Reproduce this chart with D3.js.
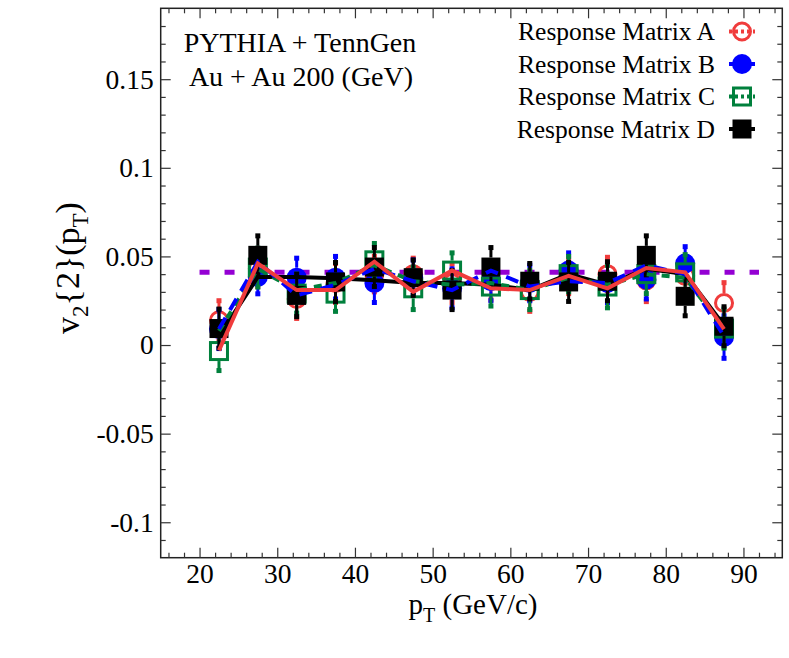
<!DOCTYPE html>
<html>
<head>
<meta charset="utf-8">
<script src="https://cdn.jsdelivr.net/npm/d3@7"></script>
<style>
  body { margin: 0; background: #fff; }
  svg { display: block; }
  text { font-family: "Liberation Serif", "Times New Roman", serif; fill: #000; }
</style>
</head>
<body>
<svg id="chart" width="789" height="658"></svg>
<script>
// pT bin centres
var ptBins = [22.5, 27.5, 32.5, 37.5, 42.5, 47.5, 52.5, 57.5, 62.5, 67.5, 72.5, 77.5, 82.5, 87.5];

// v2{2}(pT) for each response matrix (markers) and their errors
var matrixA = [0.014, 0.043, 0.026, 0.035, 0.040, 0.040, 0.035, 0.0365, 0.030, 0.039, 0.040, 0.0365, 0.039, 0.0237];
var errA    = [0.011, 0.010, 0.011, 0.011, 0.010, 0.009, 0.011, 0.011, 0.011, 0.010, 0.0095, 0.012, 0.010, 0.0115];
var matrixB = [0.009, 0.0384, 0.038, 0.038, 0.035, 0.038, 0.032, 0.036, 0.035, 0.042, 0.035, 0.037, 0.046, 0.0045];
var errB    = [0.011, 0.0095, 0.011, 0.012, 0.011, 0.010, 0.011, 0.011, 0.010, 0.010, 0.011, 0.011, 0.0095, 0.012];
var matrixC = [-0.0034, 0.0437, 0.029, 0.029, 0.0478, 0.032, 0.042, 0.033, 0.031, 0.040, 0.033, 0.040, 0.041, 0.0093];
var errC    = [0.011, 0.011, 0.011, 0.010, 0.0095, 0.012, 0.010, 0.011, 0.011, 0.010, 0.012, 0.011, 0.010, 0.011];
var matrixD = [0.0093, 0.0506, 0.028, 0.0356, 0.044, 0.038, 0.031, 0.044, 0.036, 0.0356, 0.036, 0.0506, 0.0275, 0.0106];
var errD    = [0.011, 0.011, 0.012, 0.011, 0.011, 0.010, 0.011, 0.011, 0.010, 0.011, 0.011, 0.011, 0.011, 0.011];

// curves drawn through the points
var curveRed   = [-0.003, 0.046, 0.031, 0.031, 0.047, 0.030, 0.042, 0.032, 0.031, 0.039, 0.032, 0.0435, 0.041, 0.009];
var curveBlue  = [0.009, 0.047, 0.028, 0.034, 0.043, 0.036, 0.031, 0.042, 0.033, 0.036, 0.035, 0.045, 0.040, 0.005];
var curveGreen = [0.008, 0.043, 0.031, 0.035, 0.045, 0.036, 0.034, 0.035, 0.031, 0.038, 0.034, 0.040, 0.038, 0.009];
var curveBlack = [0.005, 0.0384, 0.0384, 0.0377, 0.0365, 0.035, 0.035, 0.034, 0.031, 0.040, 0.034, 0.043, 0.040, 0.011];

// input v2 reference level
var refV2 = 0.041;
var refRange = [20, 92];

var xTicks = [20, 30, 40, 50, 60, 70, 80, 90];
var yTicks = [-0.1, -0.05, 0, 0.05, 0.1, 0.15];
var legendLabels = ["Response Matrix A", "Response Matrix B", "Response Matrix C", "Response Matrix D"];

var svg = d3.select("#chart");

var x = d3.scaleLinear().domain([15, 95]).range([160.7, 782.3]);
var y = d3.scaleLinear().domain([-0.12, 0.19]).range([557.7, 8.3]);

var xMinor = d3.range(16, 95, 2).filter(function(d) { return d % 10 !== 0; });
var yMinor = d3.range(-11, 19).map(function(d) { return d / 100; })
    .filter(function(d) { return Math.round(d * 100) % 5 !== 0; });

// frame
svg.append("rect")
    .attr("x", x.range()[0]).attr("y", y.range()[1])
    .attr("width", x.range()[1] - x.range()[0])
    .attr("height", y.range()[0] - y.range()[1])
    .attr("fill", "none").attr("stroke", "#222").attr("stroke-width", 1.5);

function styleAxis(g) {
  g.select(".domain").remove();
  g.selectAll("line").attr("stroke", "#333").attr("stroke-width", 1.2);
  g.selectAll("text").style("font-family", "Liberation Serif, serif").style("font-size", "27.5px").attr("fill", "#000");
}

// bottom / top
svg.append("g").attr("transform", "translate(0," + y.range()[0] + ")")
    .call(d3.axisBottom(x).tickValues(xTicks).tickSizeInner(-10).tickSizeOuter(0).tickPadding(6))
    .call(styleAxis);
svg.append("g").attr("transform", "translate(0," + y.range()[0] + ")")
    .call(d3.axisBottom(x).tickValues(xMinor).tickSizeInner(-5).tickSizeOuter(0).tickFormat(""))
    .call(styleAxis);
svg.append("g").attr("transform", "translate(0," + y.range()[1] + ")")
    .call(d3.axisTop(x).tickValues(xTicks).tickSizeInner(-10).tickSizeOuter(0).tickFormat(""))
    .call(styleAxis);
svg.append("g").attr("transform", "translate(0," + y.range()[1] + ")")
    .call(d3.axisTop(x).tickValues(xMinor).tickSizeInner(-5).tickSizeOuter(0).tickFormat(""))
    .call(styleAxis);

// left / right
svg.append("g").attr("transform", "translate(" + x.range()[0] + ",0)")
    .call(d3.axisLeft(y).tickValues(yTicks).tickSizeInner(-10).tickSizeOuter(0).tickPadding(7)
      .tickFormat(function(d) { return String(d); }))
    .call(styleAxis);
svg.append("g").attr("transform", "translate(" + x.range()[0] + ",0)")
    .call(d3.axisLeft(y).tickValues(yMinor).tickSizeInner(-5).tickSizeOuter(0).tickFormat(""))
    .call(styleAxis);
svg.append("g").attr("transform", "translate(" + x.range()[1] + ",0)")
    .call(d3.axisRight(y).tickValues(yTicks).tickSizeInner(-10).tickSizeOuter(0).tickFormat(""))
    .call(styleAxis);
svg.append("g").attr("transform", "translate(" + x.range()[1] + ",0)")
    .call(d3.axisRight(y).tickValues(yMinor).tickSizeInner(-5).tickSizeOuter(0).tickFormat(""))
    .call(styleAxis);

// axis titles
var xt = svg.append("text").attr("x", 473).attr("y", 614).attr("text-anchor", "middle").style("font-size", "29px");
xt.append("tspan").text("p");
xt.append("tspan").attr("dy", 8).style("font-size", "20px").text("T");
xt.append("tspan").attr("dy", -8).text(" (GeV/c)");

var yt = svg.append("text").attr("transform", "translate(79,268) rotate(-90)").attr("text-anchor", "middle").style("font-size", "34px");
yt.append("tspan").text("v");
yt.append("tspan").attr("dy", 9).style("font-size", "23px").text("2");
yt.append("tspan").attr("dy", -9).text("{2}(p");
yt.append("tspan").attr("dy", 9).style("font-size", "23px").text("T");
yt.append("tspan").attr("dy", -9).text(")");

// reference line
svg.append("line")
    .attr("x1", x(refRange[0])).attr("x2", x(refRange[1]))
    .attr("y1", y(refV2)).attr("y2", y(refV2))
    .attr("stroke", "#9400d3").attr("stroke-width", 5).attr("stroke-dasharray", "10,15");

var series = [
  {vals: matrixA, errs: errA, color: "#f03c3c", shape: "circle", open: true, size: 10},
  {vals: matrixB, errs: errB, color: "#0000ff", shape: "circle", open: false, size: 10},
  {vals: matrixC, errs: errC, color: "#00803c", shape: "square", open: true, size: 10},
  {vals: matrixD, errs: errD, color: "#000000", shape: "square", open: false, size: 9.5}
];

function drawMarker(g, s, cx, cy) {
  var r = s.size;
  if (s.shape === "circle") {
    g.append("circle").attr("cx", cx).attr("cy", cy).attr("r", s.open ? r - 1.5 : r)
      .attr("fill", s.open ? "none" : s.color)
      .attr("stroke", s.color).attr("stroke-width", s.open ? 3 : 0);
  } else {
    var h = s.open ? r - 1.5 : r;
    g.append("rect").attr("x", cx - h).attr("y", cy - h).attr("width", 2 * h).attr("height", 2 * h)
      .attr("fill", s.open ? "none" : s.color)
      .attr("stroke", s.color).attr("stroke-width", s.open ? 3 : 0);
  }
}

series.forEach(function(s) {
  var g = svg.append("g");
  ptBins.forEach(function(pt, i) {
    var cx = x(pt), cy = y(s.vals[i]);
    var top = y(s.vals[i] + s.errs[i]), bot = y(s.vals[i] - s.errs[i]);
    g.append("line").attr("x1", cx).attr("x2", cx).attr("y1", top).attr("y2", cy - s.size)
      .attr("stroke", s.color).attr("stroke-width", 3);
    g.append("line").attr("x1", cx).attr("x2", cx).attr("y1", cy + s.size).attr("y2", bot)
      .attr("stroke", s.color).attr("stroke-width", 3);
    [top, bot].forEach(function(yy) {
      g.append("rect").attr("x", cx - 2.5).attr("y", yy - 2.5).attr("width", 5).attr("height", 5).attr("fill", s.color);
    });
    drawMarker(g, s, cx, cy);
  });
});

var line = d3.line()
    .x(function(d, i) { return x(ptBins[i]); })
    .y(function(d) { return y(d); });

var curves = [
  {vals: curveBlack, color: "#000000", dash: null},
  {vals: curveGreen, color: "#00803c", dash: "8,7"},
  {vals: curveBlue,  color: "#0000ff", dash: "13,9"},
  {vals: curveRed,   color: "#f03c3c", dash: null}
];
curves.forEach(function(c) {
  svg.append("path").datum(c.vals).attr("d", line)
    .attr("fill", "none").attr("stroke", c.color).attr("stroke-width", 4)
    .attr("stroke-dasharray", c.dash);
});

// labels
svg.append("text").attr("x", 300).attr("y", 52).attr("text-anchor", "middle").style("font-size", "28px").text("PYTHIA + TennGen");
svg.append("text").attr("x", 301).attr("y", 86).attr("text-anchor", "middle").style("font-size", "28px").text("Au + Au 200 (GeV)");

// legend
var legendLines = [
  {color: "#f03c3c", dash: "3,3"},
  {color: "#0000ff", dash: null},
  {color: "#00803c", dash: "3,3"},
  {color: "#000000", dash: null}
];
var leg = svg.append("g");
legendLabels.forEach(function(lab, i) {
  var cy = 31.5 + i * 32.5;
  leg.append("text").attr("x", 715).attr("y", cy + 8.5).attr("text-anchor", "end").style("font-size", "25.5px").text(lab);
  leg.append("line").attr("x1", 729).attr("x2", 755).attr("y1", cy).attr("y2", cy)
    .attr("stroke", legendLines[i].color).attr("stroke-width", 4)
    .attr("stroke-dasharray", legendLines[i].dash);
  drawMarker(leg, series[i], 742, cy);
});
</script>
</body>
</html>
